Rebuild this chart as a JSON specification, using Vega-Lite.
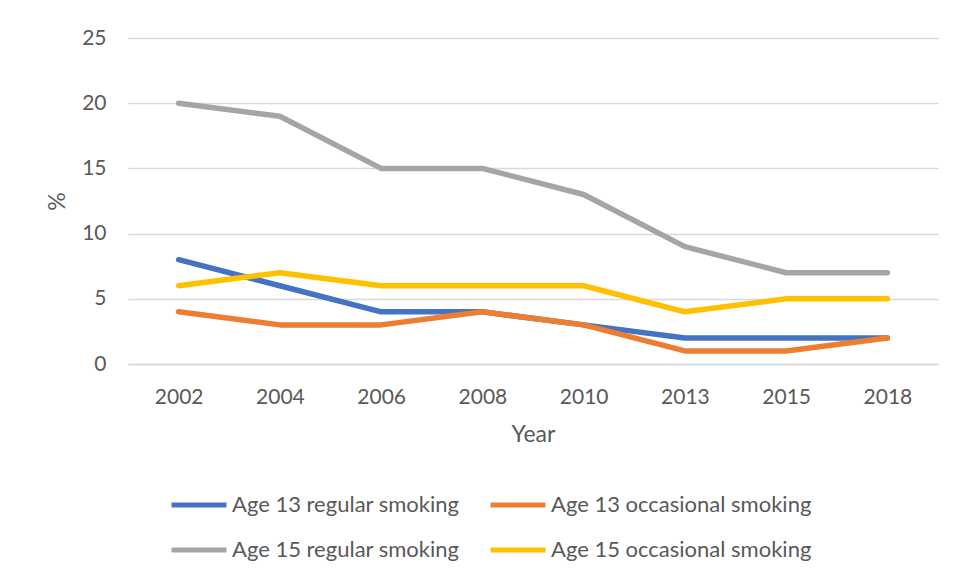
{
  "$schema": "https://vega.github.io/schema/vega-lite/v6.json",
  "width": 810,
  "height": 326,
  "autosize": {"type": "none"},
  "padding": {"left": 128, "top": 38, "right": 18, "bottom": 215},
  "background": "white",
  "config": {
    "font": "Lato",
    "view": {"stroke": null},
    "axis": {
      "labelFont": "Lato",
      "labelFontSize": 21,
      "labelColor": "#595959",
      "titleFont": "Lato",
      "titleFontSize": 23,
      "titleFontWeight": "normal",
      "titleColor": "#595959",
      "gridColor": "#D9D9D9",
      "gridWidth": 1.5,
      "ticks": false
    }
  },
  "data": {
    "values": [
      {"Year": "2002", "series": "Age 13 regular smoking", "pct": 8},
      {"Year": "2004", "series": "Age 13 regular smoking", "pct": 6},
      {"Year": "2006", "series": "Age 13 regular smoking", "pct": 4},
      {"Year": "2008", "series": "Age 13 regular smoking", "pct": 4},
      {"Year": "2010", "series": "Age 13 regular smoking", "pct": 3},
      {"Year": "2013", "series": "Age 13 regular smoking", "pct": 2},
      {"Year": "2015", "series": "Age 13 regular smoking", "pct": 2},
      {"Year": "2018", "series": "Age 13 regular smoking", "pct": 2},
      {"Year": "2002", "series": "Age 13 occasional smoking", "pct": 4},
      {"Year": "2004", "series": "Age 13 occasional smoking", "pct": 3},
      {"Year": "2006", "series": "Age 13 occasional smoking", "pct": 3},
      {"Year": "2008", "series": "Age 13 occasional smoking", "pct": 4},
      {"Year": "2010", "series": "Age 13 occasional smoking", "pct": 3},
      {"Year": "2013", "series": "Age 13 occasional smoking", "pct": 1},
      {"Year": "2015", "series": "Age 13 occasional smoking", "pct": 1},
      {"Year": "2018", "series": "Age 13 occasional smoking", "pct": 2},
      {"Year": "2002", "series": "Age 15 regular smoking", "pct": 20},
      {"Year": "2004", "series": "Age 15 regular smoking", "pct": 19},
      {"Year": "2006", "series": "Age 15 regular smoking", "pct": 15},
      {"Year": "2008", "series": "Age 15 regular smoking", "pct": 15},
      {"Year": "2010", "series": "Age 15 regular smoking", "pct": 13},
      {"Year": "2013", "series": "Age 15 regular smoking", "pct": 9},
      {"Year": "2015", "series": "Age 15 regular smoking", "pct": 7},
      {"Year": "2018", "series": "Age 15 regular smoking", "pct": 7},
      {"Year": "2002", "series": "Age 15 occasional smoking", "pct": 6},
      {"Year": "2004", "series": "Age 15 occasional smoking", "pct": 7},
      {"Year": "2006", "series": "Age 15 occasional smoking", "pct": 6},
      {"Year": "2008", "series": "Age 15 occasional smoking", "pct": 6},
      {"Year": "2010", "series": "Age 15 occasional smoking", "pct": 6},
      {"Year": "2013", "series": "Age 15 occasional smoking", "pct": 4},
      {"Year": "2015", "series": "Age 15 occasional smoking", "pct": 5},
      {"Year": "2018", "series": "Age 15 occasional smoking", "pct": 5}
    ]
  },
  "mark": {"type": "line", "strokeWidth": 5.5, "strokeCap": "round", "strokeJoin": "round"},
  "encoding": {
    "x": {
      "field": "Year",
      "type": "ordinal",
      "scale": {"type": "point", "padding": 0.5},
      "axis": {
        "title": "Year",
        "labelAngle": 0,
        "labelPadding": 22,
        "titlePadding": 16,
        "grid": false,
        "domain": true,
        "domainColor": "#D9D9D9",
        "domainWidth": 1.5
      }
    },
    "y": {
      "field": "pct",
      "type": "quantitative",
      "scale": {"domain": [0, 25], "nice": false},
      "axis": {
        "title": "%",
        "values": [0, 5, 10, 15, 20, 25],
        "domain": false,
        "labelPadding": 22,
        "titlePadding": 12
      }
    },
    "color": {
      "field": "series",
      "type": "nominal",
      "sort": ["Age 13 regular smoking", "Age 13 occasional smoking", "Age 15 regular smoking", "Age 15 occasional smoking"],
      "scale": {
        "domain": ["Age 13 regular smoking", "Age 13 occasional smoking", "Age 15 regular smoking", "Age 15 occasional smoking"],
        "range": ["#4472C4", "#ED7D31", "#A5A5A5", "#FFC000"]
      },
      "legend": {
        "title": null,
        "orient": "none",
        "legendX": 41,
        "legendY": 437,
        "direction": "horizontal",
        "columns": 2,
        "symbolType": "stroke",
        "symbolSize": 3025,
        "symbolStrokeWidth": 5,
        "labelOffset": 3,
        "labelFont": "Lato",
        "labelFontSize": 22,
        "labelColor": "#595959",
        "labelLimit": 400,
        "columnPadding": 20,
        "rowPadding": 4
      }
    }
  }
}
